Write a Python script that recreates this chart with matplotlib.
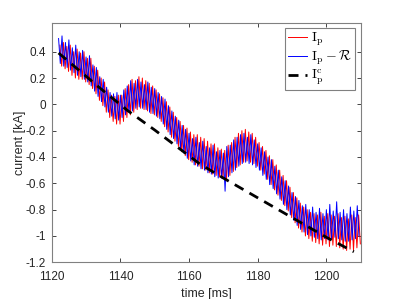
import numpy as np
import matplotlib
matplotlib.use('Agg')
import matplotlib.pyplot as plt

plt.rcParams['font.family'] = ['Liberation Sans', 'DejaVu Sans']
plt.rcParams['mathtext.fontset'] = 'cm'

# peaks / troughs of the traces, one pair every 1 ms starting at 1122 ms
t0 = 1122.0
step = 1.0

# I_p - R (blue)
ip_r_hi = [0.50, 0.52, 0.47, 0.49, 0.43, 0.45, 0.40, 0.41, 0.36, 0.37,
           0.30, 0.28, 0.21, 0.19, 0.13, 0.09, 0.08, 0.09, 0.07, 0.11,
           0.14, 0.18, 0.16, 0.19, 0.17, 0.15, 0.17, 0.13, 0.12, 0.09,
           0.06, 0.04, -0.01, -0.05, -0.09, -0.12, -0.16, -0.19, -0.22, -0.26,
           -0.25, -0.29, -0.28, -0.32, -0.33, -0.31, -0.36, -0.35, -0.37, -0.32,
           -0.31, -0.27, -0.25, -0.23, -0.22, -0.25, -0.23, -0.27, -0.30, -0.33,
           -0.36, -0.40, -0.42, -0.47, -0.50, -0.55, -0.58, -0.62, -0.67, -0.70,
           -0.73, -0.77, -0.76, -0.80, -0.78, -0.82, -0.79, -0.83, -0.80, -0.76,
           -0.81, -0.74, -0.82, -0.80, -0.83, -0.78, -0.81, -0.77]
ip_r_lo = [0.31, 0.29, 0.28, 0.26, 0.24, 0.22, 0.21, 0.19, 0.17, 0.14,
           0.10, 0.06, 0.02, -0.02, -0.06, -0.09, -0.11, -0.12, -0.10, -0.08,
           -0.06, -0.05, -0.03, -0.02, -0.03, -0.04, -0.06, -0.07, -0.09, -0.11,
           -0.15, -0.19, -0.23, -0.26, -0.30, -0.34, -0.37, -0.41, -0.43, -0.46,
           -0.47, -0.49, -0.50, -0.52, -0.53, -0.55, -0.56, -0.56, -0.66, -0.55,
           -0.52, -0.50, -0.47, -0.45, -0.44, -0.45, -0.46, -0.48, -0.50, -0.54,
           -0.57, -0.61, -0.64, -0.68, -0.72, -0.76, -0.80, -0.84, -0.88, -0.92,
           -0.95, -0.97, -0.99, -1.00, -1.01, -1.02, -1.03, -1.02, -1.03, -1.02,
           -1.01, -1.02, -1.03, -1.04, -1.04, -1.03, -1.02, -1.00]

# I_p (red)
ip_hi = [0.45, 0.47, 0.44, 0.45, 0.40, 0.42, 0.39, 0.40, 0.35, 0.35,
         0.29, 0.26, 0.20, 0.17, 0.11, 0.07, 0.06, 0.07, 0.07, 0.12,
         0.15, 0.19, 0.18, 0.21, 0.20, 0.18, 0.16, 0.14, 0.11, 0.08,
         0.05, 0.02, -0.02, -0.06, -0.10, -0.13, -0.16, -0.18, -0.21, -0.23,
         -0.23, -0.25, -0.26, -0.28, -0.30, -0.30, -0.33, -0.34, -0.35, -0.31,
         -0.29, -0.25, -0.22, -0.20, -0.19, -0.21, -0.22, -0.25, -0.29, -0.32,
         -0.35, -0.39, -0.42, -0.46, -0.50, -0.54, -0.58, -0.63, -0.67, -0.71,
         -0.75, -0.78, -0.80, -0.82, -0.83, -0.84, -0.82, -0.85, -0.83, -0.84,
         -0.85, -0.83, -0.86, -0.85, -0.87, -0.84, -0.86, -0.84]
ip_lo = [0.29, 0.27, 0.25, 0.22, 0.20, 0.19, 0.19, 0.17, 0.15, 0.12,
         0.08, 0.03, -0.01, -0.06, -0.10, -0.13, -0.15, -0.15, -0.13, -0.10,
         -0.08, -0.06, -0.04, -0.03, -0.04, -0.05, -0.07, -0.08, -0.10, -0.13,
         -0.17, -0.21, -0.25, -0.28, -0.32, -0.36, -0.39, -0.42, -0.44, -0.46,
         -0.47, -0.49, -0.50, -0.52, -0.53, -0.54, -0.55, -0.56, -0.58, -0.54,
         -0.51, -0.48, -0.46, -0.44, -0.43, -0.44, -0.45, -0.47, -0.50, -0.53,
         -0.57, -0.61, -0.65, -0.69, -0.73, -0.77, -0.81, -0.86, -0.90, -0.94,
         -0.97, -1.00, -1.02, -1.04, -1.05, -1.06, -1.07, -1.06, -1.08, -1.07,
         -1.08, -1.09, -1.10, -1.11, -1.10, -1.11, -1.09, -1.06]

# reference current I_p^c
ipc_t = [1122, 1134, 1142, 1150, 1163, 1170, 1180, 1190, 1200, 1208]
ipc_v = [0.39, 0.125, -0.045, -0.195, -0.45, -0.56, -0.71, -0.86, -1.01, -1.12]


def zigzag(hi, lo, shift=0.0):
    n = len(hi)
    t = np.empty(2 * n)
    v = np.empty(2 * n)
    t[0::2] = t0 + shift + step * np.arange(n)
    t[1::2] = t0 + shift + step * np.arange(n) + step / 2
    v[0::2] = hi
    v[1::2] = lo
    return t, v


fig = plt.figure(figsize=(3.99, 2.99), dpi=100)
ax = fig.add_axes([0.1296, 0.1227, 0.7744, 0.8013])

t_red, v_red = zigzag(ip_hi, ip_lo, shift=0.4)
t_blue, v_blue = zigzag(ip_r_hi, ip_r_lo)
ax.plot(t_red, v_red, color='#ff0000', lw=0.7, label=r'$\mathrm{I_p}$')
ax.plot(t_blue, v_blue, color='#0000ff', lw=0.7, label=r'$\mathrm{I_p} - \mathcal{R}$')
ax.plot(ipc_t, ipc_v, color='black', lw=2, dashes=(3.6, 2.5), label=r'$\mathrm{I^c_p}$')

ax.set_xlim(1120, 1210)
ax.set_ylim(-1.2, 0.62)
ax.set_xticks([1120, 1140, 1160, 1180, 1200])
ax.set_yticks([-1.2, -1, -0.8, -0.6, -0.4, -0.2, 0, 0.2, 0.4])
ax.set_yticklabels(['-1.2', '-1', '-0.8', '-0.6', '-0.4', '-0.2', '0', '0.2', '0.4'])
ax.tick_params(direction='in', top=True, right=True, length=3, width=0.6,
               labelsize=8.5, colors='#262626')
ax.tick_params(axis='x', pad=6.5)
ax.tick_params(axis='y', pad=4)
for s in ax.spines.values():
    s.set_color('#808080')
    s.set_linewidth(0.8)
ax.set_xlabel('time [ms]', fontsize=9, color='#262626', labelpad=3)
ax.set_ylabel('current [kA]', fontsize=9, color='#262626', labelpad=0)

leg = ax.legend(loc='upper right', fontsize=10, handlelength=1.4, handletextpad=0.3,
                labelspacing=0.05, borderpad=0.2, borderaxespad=0.4,
                fancybox=False, framealpha=1)
leg.get_frame().set_edgecolor('#808080')
leg.get_frame().set_linewidth(0.8)

fig.savefig('out.png', dpi=100)
